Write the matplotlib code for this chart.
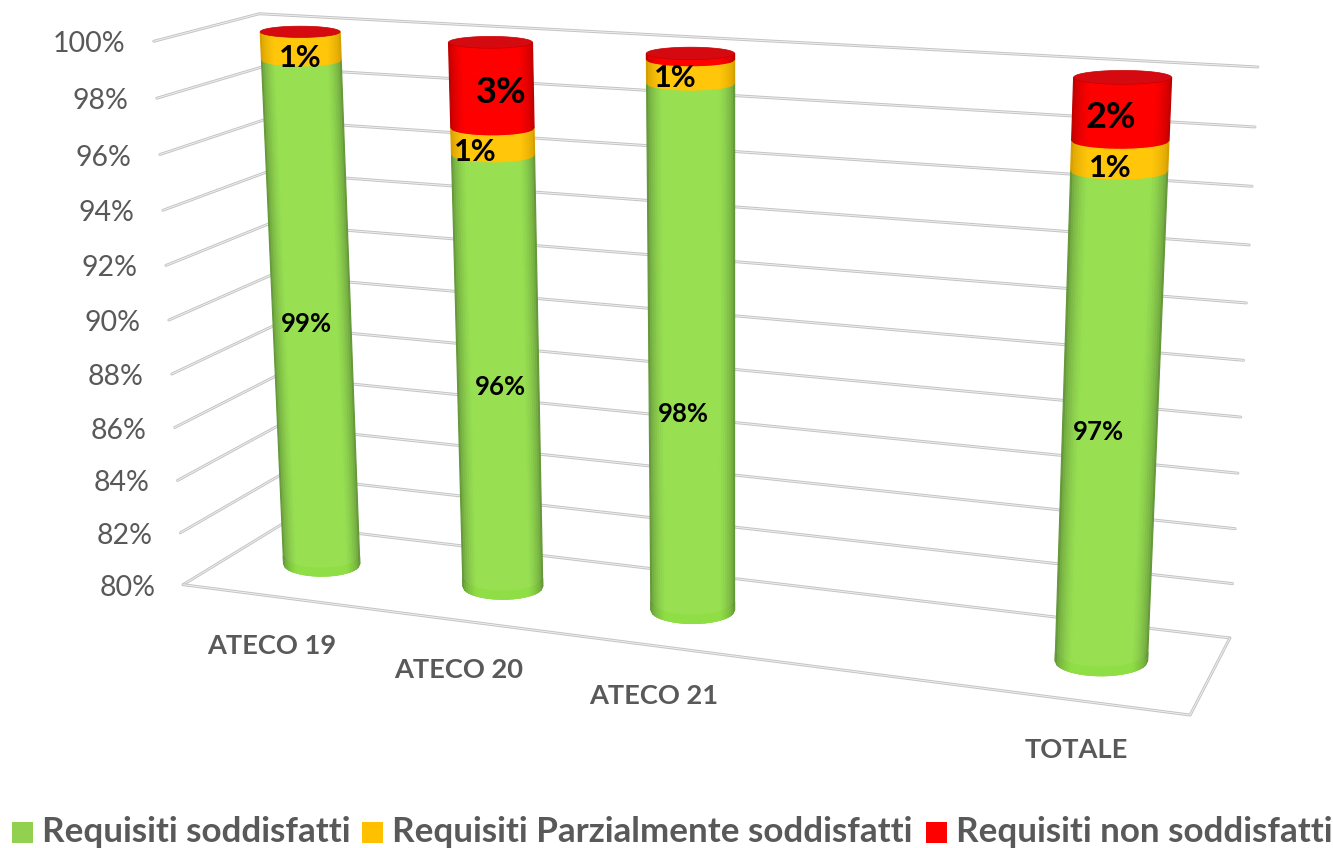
import numpy as np
import matplotlib
matplotlib.use("Agg")
import matplotlib.pyplot as plt
from matplotlib.collections import PolyCollection
from matplotlib.patches import Polygon, Rectangle

plt.rcParams["font.family"] = ["Lato", "DejaVu Sans"]

# the empty slot between ATECO 21 and TOTALE is a blank category in the source chart
categories = ["ATECO 19", "ATECO 20", "ATECO 21", "", "TOTALE"]
soddisfatti = [99.0, 96.05, 98.98, 0, 96.95]
parziali = [1.0, 0.95, 0.82, 0, 1.0]
non_soddisfatti = [0.0, 3.0, 0.2, 0, 2.05]

label_soddisfatti = ["99%", "96%", "98%", "", "97%"]
label_parziali = ["1%", "1%", "1%", "", "1%"]
label_non = ["", "3%", "", "", "2%"]

y_ticks = [80, 82, 84, 86, 88, 90, 92, 94, 96, 98, 100]
legend_names = ["Requisiti soddisfatti", "Requisiti Parzialmente soddisfatti", "Requisiti non soddisfatti"]

GREEN = ("#98E052", "#5F8F38")
GREEN_RIM = ("#90DE45", "#5F8F38")
YELLOW = ("#FFC60A", "#D09A00")
RED = ("#FF0000", "#B80000")
TEXT_GRAY = "#595959"

# where the corners of the 3D box land in the image: (across, depth, height) -> pixel
box_corners = [(0, 0, 1), (0, 1, 1), (1, 1, 1), (0, 0, 0), (0, 1, 0), (1, 1, 0), (1, 0, 0)]
box_pixels = [(154, 41), (259, 14), (1258, 67), (183, 585), (282, 524), (1230, 638), (1190, 715)]

BAR_DEPTH = 0.51
BAR_SHIFT = -0.001
RADIUS_U = 0.043
RADIUS_D = 0.20

# nudges in pixels, Excel places 3D data labels rather freely
offset_sodd = [(14, -3), (20, 2), (7, 50), (0, 0), (-2, -1)]
offset_parz = [(20, 6), (0, 4), (0, 0), (0, 0), (0, 4)]
offset_non = [(0, 0), (28, 1), (0, 0), (0, 0), (-1, 1)]


def fit_projection(points, pixels):
    rows, rhs = [], []
    for (a, b, c), (x, y) in zip(points, pixels):
        rows.append([a, b, c, 1, 0, 0, 0, 0, -x * a, -x * b, -x * c])
        rows.append([0, 0, 0, 0, a, b, c, 1, -y * a, -y * b, -y * c])
        rhs += [x, y]
    sol = np.linalg.lstsq(np.array(rows, float), np.array(rhs, float), rcond=None)[0]
    return np.append(sol, 1).reshape(3, 4)


P = fit_projection(box_corners, box_pixels)


def project(u, d, value):
    h = (value - 80) / 20
    q = P @ np.array([u, d, h, 1.0])
    return q[0] / q[2], q[1] / q[2]


def ring_point(u, value, ang):
    # Excel keeps the cylinder ellipses level on screen, they don't shear with the floor
    cx, cy = project(u, BAR_DEPTH, value)
    half_w = (project(u + RADIUS_U, BAR_DEPTH, value)[0] - project(u - RADIUS_U, BAR_DEPTH, value)[0]) / 2
    half_h = (project(u, BAR_DEPTH - RADIUS_D, value)[1] - project(u, BAR_DEPTH + RADIUS_D, value)[1]) / 2
    return cx + half_w * np.cos(ang), cy - half_h * np.sin(ang)


def mix(c1, c2, t):
    a = np.array(matplotlib.colors.to_rgb(c1))
    b = np.array(matplotlib.colors.to_rgb(c2))
    return tuple(a * t + b * (1 - t))


def draw_segment(ax, u, low, high, colors):
    # strips of equal screen width, painted from the edges towards the middle
    angles = 2 * np.pi - np.arccos(np.linspace(1, -1, 43))
    strips = []
    for a0, a1 in zip(angles[:-1], angles[1:]):
        corners = [ring_point(u, low, a0), ring_point(u, low, a1), ring_point(u, high, a1), ring_point(u, high, a0)]
        shade = min(1, abs(np.sin((a0 + a1) / 2)) ** 1.3 * 1.4)
        strips.append((shade, corners))
    strips.sort(key=lambda s: s[0])
    polys = [s[1] for s in strips]
    faces = [mix(colors[0], colors[1], s[0]) for s in strips]
    ax.add_collection(PolyCollection(polys, facecolors=faces, edgecolors=faces, linewidths=0.9, zorder=3))


def draw_cap(ax, u, value):
    angles = np.linspace(0, 2 * np.pi, 60)
    pts = [ring_point(u, value, a) for a in angles]
    ax.add_patch(Polygon(pts, closed=True, facecolor="#D50A10", edgecolor="#C40000", linewidth=0.5, zorder=4))


def grid_line(ax, pts, zorder=1):
    xs = [p[0] for p in pts]
    ys = [p[1] for p in pts]
    ax.plot(xs, ys, color="#C4C4C4", lw=2.1, solid_capstyle="round", zorder=zorder)
    ax.plot(xs, ys, color="#EFEFEF", lw=0.7, zorder=zorder)


fig = plt.figure(figsize=(13.33, 8.48), dpi=100)
ax = fig.add_axes([0, 0, 1, 1])
ax.set_xlim(0, 1333)
ax.set_ylim(848, 0)
ax.axis("off")

# walls and floor
for tick in y_ticks:
    grid_line(ax, [project(0, 0, tick), project(0, 1, tick), project(1, 1, tick)])
    x, y = project(0, 0, tick)
    ax.text(x - 28, y + 3, f"{tick}%", ha="right", va="center", fontsize=20.5, color=TEXT_GRAY)
grid_line(ax, [project(0, 0, 80), project(1, 0, 80), project(1, 1, 80)])

# bars
centers = [(i + 0.5) / len(categories) + BAR_SHIFT for i in range(len(categories))]
for i, u in enumerate(centers):
    if soddisfatti[i] == 0:
        continue
    g_top = soddisfatti[i]
    y_top = g_top + parziali[i]
    r_top = y_top + non_soddisfatti[i]
    draw_segment(ax, u, 80, g_top, GREEN)
    draw_segment(ax, u, 80, 80.3, GREEN_RIM)
    draw_segment(ax, u, g_top, y_top, YELLOW)
    if non_soddisfatti[i] > 0:
        draw_segment(ax, u, y_top, r_top, RED)
    draw_cap(ax, u, r_top)

    x, y = project(u, BAR_DEPTH - RADIUS_D, (80 + g_top) / 2)
    ax.text(x + offset_sodd[i][0], y + offset_sodd[i][1], label_soddisfatti[i], ha="center", va="center",
            fontsize=18.5, fontweight="bold", color="black", zorder=5)
    x, y = project(u, BAR_DEPTH - RADIUS_D, (g_top + y_top) / 2)
    ax.text(x + offset_parz[i][0], y + offset_parz[i][1], label_parziali[i], ha="center", va="center",
            fontsize=22, fontweight="bold", color="black", zorder=5)
    if label_non[i]:
        x, y = project(u, BAR_DEPTH - RADIUS_D, (y_top + r_top) / 2)
        ax.text(x + offset_non[i][0], y + offset_non[i][1], label_non[i], ha="center", va="center",
                fontsize=26, fontweight="bold", color="black", zorder=5)

for i, u in enumerate(centers):
    if categories[i]:
        x, y = project(u, 0, 80)
        ax.text(x, y + 50, categories[i], ha="center", va="center",
                fontsize=19.6, fontweight="bold", color=TEXT_GRAY)

# legend along the bottom edge
legend_colors = ["#92D050", "#FFC000", "#FF0000"]
legend_x = [12, 362, 926]
for name, col, x in zip(legend_names, legend_colors, legend_x):
    ax.add_patch(Rectangle((x, 822), 21, 21, facecolor=col, edgecolor="none"))
    ax.text(x + 30, 842, name, ha="left", va="baseline", fontsize=25.2, fontweight="bold", color=TEXT_GRAY)

fig.savefig("out.png", dpi=100)
plt.close(fig)
